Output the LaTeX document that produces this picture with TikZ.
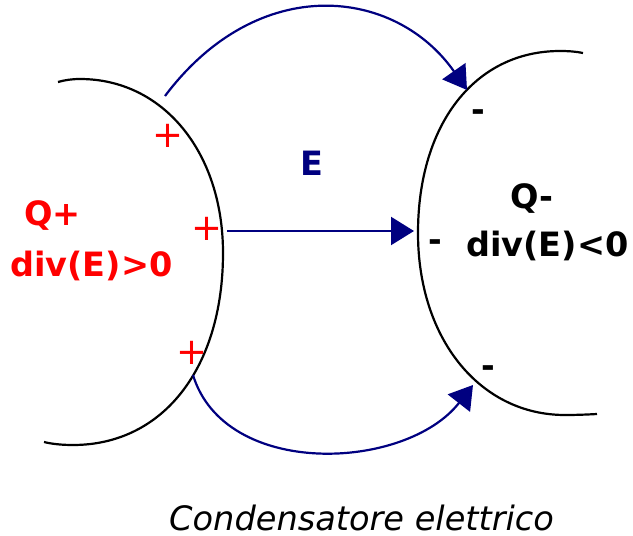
\documentclass[tikz,border=0pt]{standalone}
\usepackage{fontspec}
\setmainfont{DejaVu Sans}
\usetikzlibrary{arrows.meta}
\definecolor{navyblue}{RGB}{0,0,128}
\begin{document}
\begin{tikzpicture}[x=1pt,y=-1pt,
  plate/.style={draw=black,line width=2.2pt},
  conn/.style={draw=navyblue,line width=2.2pt,-{Triangle[length=23pt,width=28pt]}},
  lbl/.style={inner sep=0pt,font=\fontsize{33.5}{40}\selectfont\bfseries},
  plus/.style={inner sep=0pt,text=red,font=\fontsize{37}{40}\selectfont,anchor=base},
  minus/.style={inner sep=0pt,text=black,font=\fontsize{33}{40}\selectfont\bfseries,anchor=base}]
\useasboundingbox (0,0) rectangle (633,536);
% plates
\draw[plate] (58,82) .. controls (65,80) and (72,79) .. (80,79)
  .. controls (163,79) and (223,152) .. (223,253)
  .. controls (223,368) and (163,445) .. (73,445)
  .. controls (62,445) and (52,444) .. (44,442);
\draw[plate] (583,53) .. controls (576,51.5) and (568,51) .. (560,51)
  .. controls (475,51) and (418,124) .. (418,233)
  .. controls (418,339) and (480,415) .. (565,415)
  .. controls (577,415) and (588,414.5) .. (597,414);
% connector end points
\coordinate (s1) at (165,96);
\coordinate (e1) at (467,90);
\coordinate (s2) at (227,231);
\coordinate (e2) at (414,231);
\coordinate (s3) at (193,375);
\coordinate (e3) at (473,385);
\draw[conn] (s1) .. controls (258.6,-28.3) and (395.3,-12.4) .. (e1);
\draw[conn] (s2) -- (e2);
\draw[conn] (s3) .. controls (224.9,479.2) and (405.9,470.9) .. (e3);
% labels
\node[lbl,text=red,anchor=base west] (qp) at (24,225) {Q+};
\node[lbl,text=red,anchor=base west] (divp) at (10,276) {div(E)>0};
\node[lbl,text=navyblue,anchor=base west] (E) at (300,175) {E};
\node[lbl,anchor=base west] (qm) at (510,208) {Q-};
\node[lbl,anchor=base west] (divm) at (466,256) {div(E)<0};
\node[plus] (p1) at (168.5,147) {+};
\node[plus] (p2) at (207.5,240) {+};
\node[plus] (p3) at (192.5,364) {+};
\node[minus] (m1) at (478,121) {-};
\node[minus] (m2) at (435,251) {-};
\node[minus] (m3) at (488,377) {-};
\node[inner sep=0pt,text depth=0pt,anchor=base west,font=\fontsize{33.6}{40}\selectfont\itshape] (cap) at (169,530) {Condensatore elettrico};
\end{tikzpicture}
\end{document}
